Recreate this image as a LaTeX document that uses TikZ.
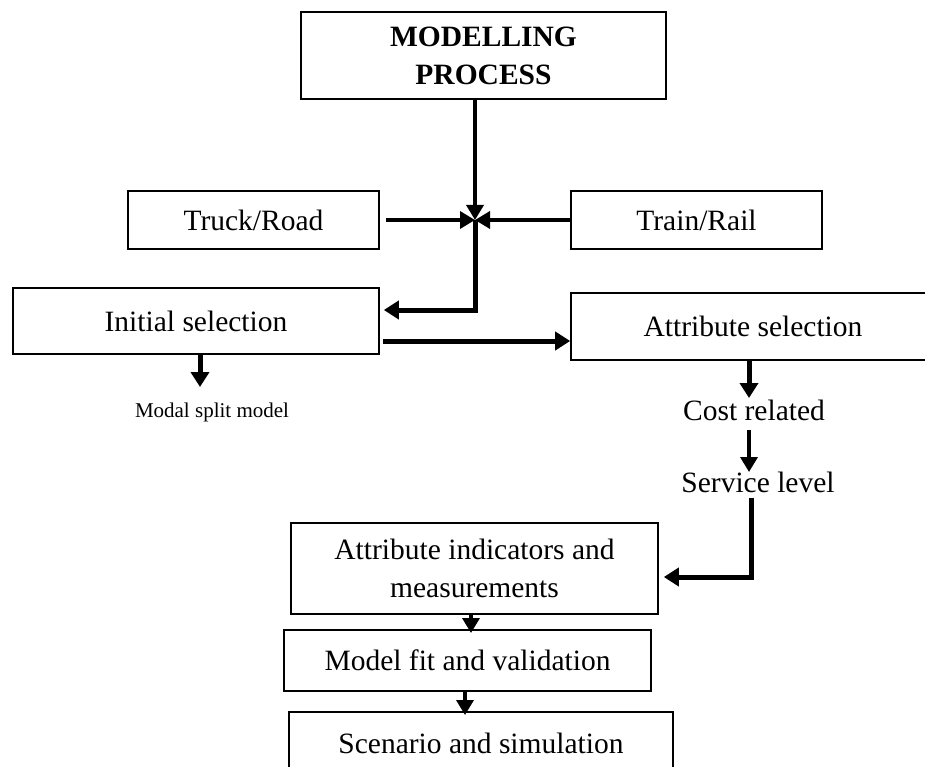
\documentclass[tikz,border=0pt]{standalone}
\usepackage{fontspec}
\setmainfont{Liberation Serif}
\usetikzlibrary{arrows.meta,calc}
\begin{document}
\begin{tikzpicture}[x=1pt,y=-1pt,
  box/.style={draw,line width=1.6pt,rectangle,inner sep=0pt,align=center,font=\fontsize{29.5}{38}\selectfont},
  lbl/.style={inner sep=0pt,font=\fontsize{29.5}{38}\selectfont},
  small/.style={inner sep=0pt,font=\fontsize{21}{26}\selectfont},
  arr/.style={line width=3.5pt,-{Triangle[length=15pt,width=17pt]}},
  tarr/.style={line width=5pt,-{Triangle[length=15pt,width=18pt]}},
]
\useasboundingbox (0,0) rectangle (925,767);
\clip (0,0) rectangle (925,767);

\node[box,minimum width=365pt,minimum height=87pt,font=\fontsize{29.5}{38}\selectfont\bfseries] (mp) at (483.5,55.5) {MODELLING\\PROCESS};
\node[box,minimum width=251pt,minimum height=58pt] (truck) at (253.5,220) {Truck/Road};
\node[box,minimum width=251pt,minimum height=58pt] (train) at (696.5,220) {Train/Rail};
\node[box,minimum width=366pt,minimum height=66pt] (init) at (196,321) {Initial selection};
\node[box,minimum width=364pt,minimum height=67pt] (attr) at (753,326.5) {Attribute selection};
\node[small] (modal) at (212,412) {Modal split model};
\node[lbl] (cost) at (754,410) {Cost related};
\node[lbl] (service) at (758,482) {Service level};
\node[box,minimum width=367pt,minimum height=91pt] (ind) at (474.5,568.5) {Attribute indicators and\\measurements};
\node[box,minimum width=367pt,minimum height=61pt] (fit) at (467.5,660.5) {Model fit and validation};
\node[box,minimum width=384pt,minimum height=62pt] (scen) at (481,743) {Scenario and simulation};

\coordinate (J) at (475,220);
\coordinate (K) at (475,310);
\coordinate (H) at (0,341);
\coordinate (M) at (200,387);
\coordinate (C1) at (749,398);
\coordinate (C2) at (749,430);
\coordinate (C3) at (749,472);
\coordinate (S1) at (751,498);
\coordinate (S2) at (751,577);
\coordinate (F1) at (471,633);
\coordinate (F2) at (465,715);

\draw[arr] (J |- mp.south) -- (J);
\draw[arr] ([xshift=6pt]truck.east) -- (J);
\draw[arr] (train.west) -- (J);
\draw[tarr] (J) -- (K) -- ([xshift=4pt]init.east |- K);
\draw[tarr] ([xshift=3pt]init.east |- H) -- (attr.west |- H);
\draw[tarr] (init.south -| M) -- (M);
\draw[tarr] (attr.south -| C1) -- (C1);
\draw[arr] (C2) -- (C3);
\draw[tarr] (S1) -- (S2) -- ([xshift=5pt]ind.east |- S2);
\draw[arr] (ind.south -| F1) -- (F1);
\draw[arr] (fit.south -| F2) -- (F2);
\end{tikzpicture}
\end{document}
